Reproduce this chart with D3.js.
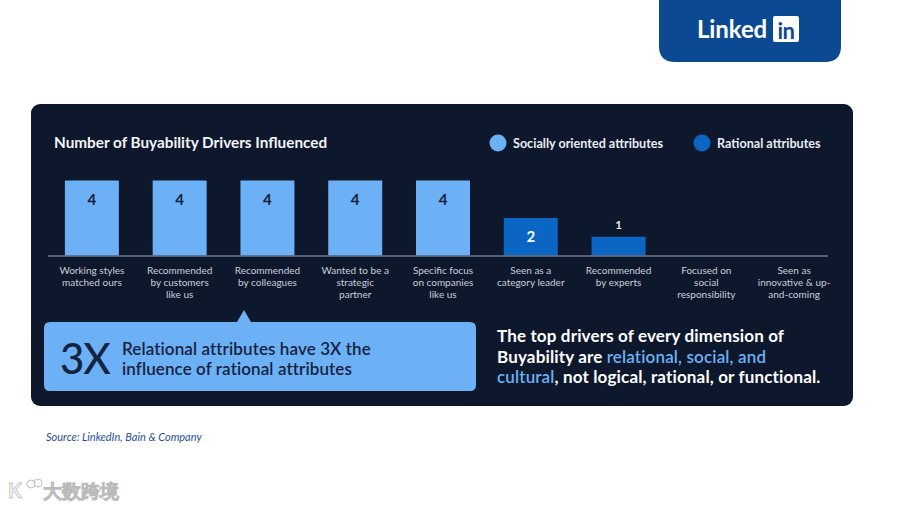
<!DOCTYPE html>
<html>
<head>
<meta charset="utf-8">
<script src="https://cdn.jsdelivr.net/npm/d3@7"></script>
<style>
  html, body { margin: 0; padding: 0; background: #ffffff; }
  svg { display: block; }
  text { font-family: Lato, "Open Sans", sans-serif; }
</style>
</head>
<body>
<svg id="chart" width="900" height="507"></svg>
<script>
// ---- data ----
const categories = [
  "Working styles|matched ours",
  "Recommended|by customers|like us",
  "Recommended|by colleagues",
  "Wanted to be a|strategic|partner",
  "Specific focus|on companies|like us",
  "Seen as a|category leader",
  "Recommended|by experts",
  "Focused on|social|responsibility",
  "Seen as|innovative & up-|and-coming"
];
const values = [4, 4, 4, 4, 4, 2, 1, 0, 0];
const attributeTypes = ["social", "social", "social", "social", "social", "rational", "rational", "rational", "rational"];
const legendLabels = ["Socially oriented attributes", "Rational attributes"];
const legendTypes = ["social", "rational"];
const chartTitle = "Number of Buyability Drivers Influenced";
const calloutBig = "3X";
const calloutLines = ["Relational attributes have 3X the", "influence of rational attributes"];
const summaryLines = [
  [["The top drivers of every dimension of", false]],
  [["Buyability are ", false], ["relational, social, and", true]],
  [["cultural", true], [", not logical, rational, or functional.", false]]
];
const sourceText = "Source: LinkedIn, Bain & Company";

// ---- styles ----
const colors = { social: "#6cb0f6", rational: "#0a66c2" };
const panelColor = "#0e182c";

const svg = d3.select("#chart");

// LinkedIn tab
const tab = svg.append("g");
tab.append("path")
  .attr("d", "M659,0 H841 V46 Q841,62 825,62 H675 Q659,62 659,46 Z")
  .attr("fill", "#0b4a92");
tab.append("text").attr("x", 697).attr("y", 38)
  .attr("font-size", 24).attr("font-weight", 700).attr("fill", "#fff")
  .attr("letter-spacing", -0.1)
  .text("Linked");
tab.append("rect").attr("x", 773).attr("y", 16).attr("width", 26).attr("height", 26)
  .attr("rx", 2).attr("fill", "#fff");
tab.append("text").attr("x", 786).attr("y", 38.5).attr("text-anchor", "middle")
  .attr("font-size", 22).attr("font-weight", 700).attr("fill", "#0b4a92")
  .attr("letter-spacing", -0.5)
  .text("in");

// Panel
svg.append("rect").attr("x", 31).attr("y", 104).attr("width", 822).attr("height", 302)
  .attr("rx", 9).attr("fill", panelColor);

// Title
svg.append("text").attr("x", 54).attr("y", 148)
  .attr("font-size", 15.3).attr("font-weight", 700).attr("fill", "#f2f4f8")
  .text(chartTitle);

// Legend
const legendX = [498, 702];
legendTypes.forEach((t, i) => {
  svg.append("circle").attr("cx", legendX[i]).attr("cy", 143).attr("r", 8.5).attr("fill", colors[t]);
  svg.append("text").attr("x", legendX[i] + 15).attr("y", 147.5)
    .attr("font-size", 12.6).attr("font-weight", 700).attr("fill", "#e8ecf2")
    .text(legendLabels[i]);
});

// Scales
const x = d3.scaleBand().domain(categories).range([48, 838]).paddingInner(0.385).paddingOuter(0.1925);
const y = d3.scaleLinear().domain([0, 4]).range([255.5, 180.5]);

// Bars
svg.append("g").selectAll("rect").data(values).join("rect")
  .attr("x", (d, i) => x(categories[i]))
  .attr("y", d => y(d))
  .attr("width", x.bandwidth())
  .attr("height", d => y(0) - y(d))
  .attr("fill", (d, i) => colors[attributeTypes[i]]);

// Value labels
values.forEach((d, i) => {
  if (d <= 0) return;
  const inside = (y(0) - y(d)) > 30;
  const t = attributeTypes[i];
  svg.append("text")
    .attr("x", x(categories[i]) + x.bandwidth() / 2)
    .attr("y", inside ? y(d) + 24 : y(d) - 8)
    .attr("text-anchor", "middle")
    .attr("font-size", inside ? 15 : 11.5)
    .attr("font-weight", 700)
    .attr("fill", inside ? (t === "social" ? "#13213b" : "#ffffff") : "#e8ecf2")
    .text(d);
});

// Axis
const axisG = svg.append("g").attr("transform", `translate(0,${y(0)})`)
  .call(d3.axisBottom(x).tickSize(0).tickFormat(""));
axisG.select(".domain").attr("stroke", "#6b7890").attr("stroke-width", 1.5)
  .attr("d", "M48,0.5H828");

// Category labels
categories.forEach(c => {
  const lines = c.split("|");
  const t = svg.append("text")
    .attr("x", x(c) + x.bandwidth() / 2)
    .attr("y", 274)
    .attr("text-anchor", "middle")
    .attr("font-size", 10)
    .attr("fill", "#c9ced8");
  lines.forEach((l, j) => {
    t.append("tspan").attr("x", x(c) + x.bandwidth() / 2).attr("dy", j === 0 ? 0 : 12.2).text(l);
  });
});

// Callout box
svg.append("path")
  .attr("d", "M50,322 H237 L244,310 L251,322 H470 Q476,322 476,328 V385 Q476,391 470,391 H50 Q44,391 44,385 V328 Q44,322 50,322 Z")
  .attr("fill", "#6cb0f6");
svg.append("text").attr("x", 60).attr("y", 374)
  .attr("font-size", 42).attr("font-weight", 500).attr("fill", "#14233f")
  .attr("letter-spacing", -1)
  .text(calloutBig);
calloutLines.forEach((l, i) => {
  svg.append("text").attr("x", 122).attr("y", 355 + i * 19.5)
    .attr("font-size", 17).attr("font-weight", 600).attr("fill", "#14233f")
    .attr("letter-spacing", 0.1)
    .text(l);
});

// Summary text
summaryLines.forEach((parts, i) => {
  const t = svg.append("text").attr("x", 497).attr("y", 342 + i * 20.5)
    .attr("font-size", 17).attr("font-weight", 700).attr("fill", "#ffffff")
    .attr("letter-spacing", 0.15);
  parts.forEach(p => {
    t.append("tspan").attr("fill", p[1] ? "#6cb0f6" : "#ffffff")
      .attr("font-weight", p[1] ? 600 : 700).text(p[0]);
  });
});

// Source
svg.append("text").attr("x", 46).attr("y", 441)
  .attr("font-size", 11).attr("font-style", "italic").attr("fill", "#1f4f94")
  .text(sourceText);

// Watermark
const wm = svg.append("g").attr("opacity", 0.85);
wm.append("text").attr("x", 8).attr("y", 498)
  .attr("font-size", 20).attr("font-weight", 700).attr("fill", "#f4f4f4")
  .attr("stroke", "#b8b8b8").attr("stroke-width", 0.8)
  .text("K");
wm.append("circle").attr("cx", 31).attr("cy", 484).attr("r", 4).attr("fill", "none").attr("stroke", "#b8b8b8");
wm.append("circle").attr("cx", 38).attr("cy", 483).attr("r", 4).attr("fill", "none").attr("stroke", "#b8b8b8");
wm.append("text").attr("x", 43).attr("y", 498)
  .attr("font-size", 19).attr("font-weight", 700).attr("fill", "#f4f4f4")
  .attr("stroke", "#b0b0b0").attr("stroke-width", 0.8)
  .attr("font-family", "'Noto Sans CJK SC', sans-serif")
  .text("大数跨境");
</script>
</body>
</html>
